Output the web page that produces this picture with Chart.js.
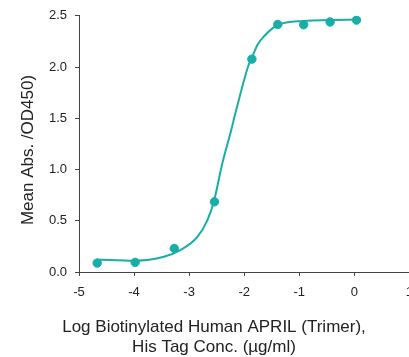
<!DOCTYPE html>
<html>
<head>
<meta charset="utf-8">
<script src="https://cdn.jsdelivr.net/npm/chart.js@4.4.1/dist/chart.umd.min.js"></script>
<style>
  html, body { margin: 0; padding: 0; background: #fff; overflow: hidden; }
</style>
</head>
<body>
<canvas id="grafica" width="422" height="357"></canvas>
<script>
// Puntos medidos (log concentración, absorbancia media)
const logConc = [-4.67, -3.98, -3.27, -2.54, -1.86, -1.39, -0.92, -0.44, 0.04];
const absMedia = [0.087, 0.094, 0.23, 0.685, 2.077, 2.416, 2.413, 2.44, 2.458];

// Curva ajustada
const curvaX = [-4.68, -3.98, -3.46, -3.16, -2.85, -2.67, -2.55, -2.40, -2.24, -2.15, -1.92, -1.86, -1.76, -1.64, -1.39, -0.91, -0.42, 0.04];
const curvaY = [0.123, 0.110, 0.148, 0.213, 0.342, 0.504, 0.688, 1.053, 1.376, 1.57, 2.02, 2.09, 2.216, 2.30, 2.41, 2.45, 2.458, 2.464];

const ticksY = [0, 0.5, 1.0, 1.5, 2.0, 2.5];
const ticksX = [-5, -4, -3, -2, -1, 0, 1];

const tituloX = ['Log Biotinylated Human APRIL (Trimer),', 'His Tag Conc. (\u00b5g/ml)'];
const tituloY = 'Mean Abs. /OD450)';

const color = '#17aea6';
const fuente = "'Liberation Sans', Arial, sans-serif";

const puntos = logConc.map((x, i) => ({ x: x, y: absMedia[i] }));
const curva = curvaX.map((x, i) => ({ x: x, y: curvaY[i] }));

// Titulos de ejes dibujados a mano para colocarlos igual que el original
const titulos = {
  id: 'titulos',
  afterDraw(chart) {
    const c = chart.ctx;
    c.save();
    c.fillStyle = '#222';
    c.font = '17px ' + fuente;
    c.textAlign = 'center';
    c.textBaseline = 'middle';
    c.fillText(tituloX[0], 214, 327);
    c.fillText(tituloX[1], 214, 347);
    c.translate(28, 150);
    c.rotate(-Math.PI / 2);
    c.fillText(tituloY, 0, 0);
    c.restore();
  }
};

const ctx = document.getElementById('grafica').getContext('2d');
new Chart(ctx, {
  type: 'scatter',
  data: {
    datasets: [
      {
        data: puntos,
        backgroundColor: color,
        borderColor: color,
        pointRadius: 4.2,
        pointHoverRadius: 4.2,
        showLine: false,
        order: 1
      },
      {
        data: curva,
        borderColor: color,
        borderWidth: 2,
        pointRadius: 0,
        showLine: true,
        cubicInterpolationMode: 'monotone',
        order: 2
      }
    ]
  },
  options: {
    responsive: false,
    animation: false,
    layout: { padding: { top: 14, right: 8, left: 0, bottom: 0 } },
    plugins: { legend: { display: false }, tooltip: { enabled: false } },
    scales: {
      x: {
        type: 'linear',
        min: -5,
        max: 1,
        afterBuildTicks(scale) { scale.ticks = ticksX.map(v => ({ value: v })); },
        afterFit(scale) { scale.height = 85; },
        ticks: {
          color: '#222',
          font: { family: fuente, size: 13 },
          padding: 9,
          callback: v => String(v)
        },
        grid: { drawOnChartArea: false, drawTicks: true, tickLength: 4, color: '#444' },
        border: { color: '#444', width: 1 }
      },
      y: {
        min: 0,
        max: 2.5,
        afterBuildTicks(scale) { scale.ticks = ticksY.map(v => ({ value: v })); },
        afterFit(scale) { scale.width = 79; },
        ticks: {
          color: '#222',
          font: { family: fuente, size: 13 },
          padding: 8,
          callback: v => Number(v).toFixed(1)
        },
        grid: { drawOnChartArea: false, drawTicks: true, tickLength: 4, color: '#444' },
        border: { color: '#444', width: 1 }
      }
    }
  },
  plugins: [titulos]
});
</script>
</body>
</html>
